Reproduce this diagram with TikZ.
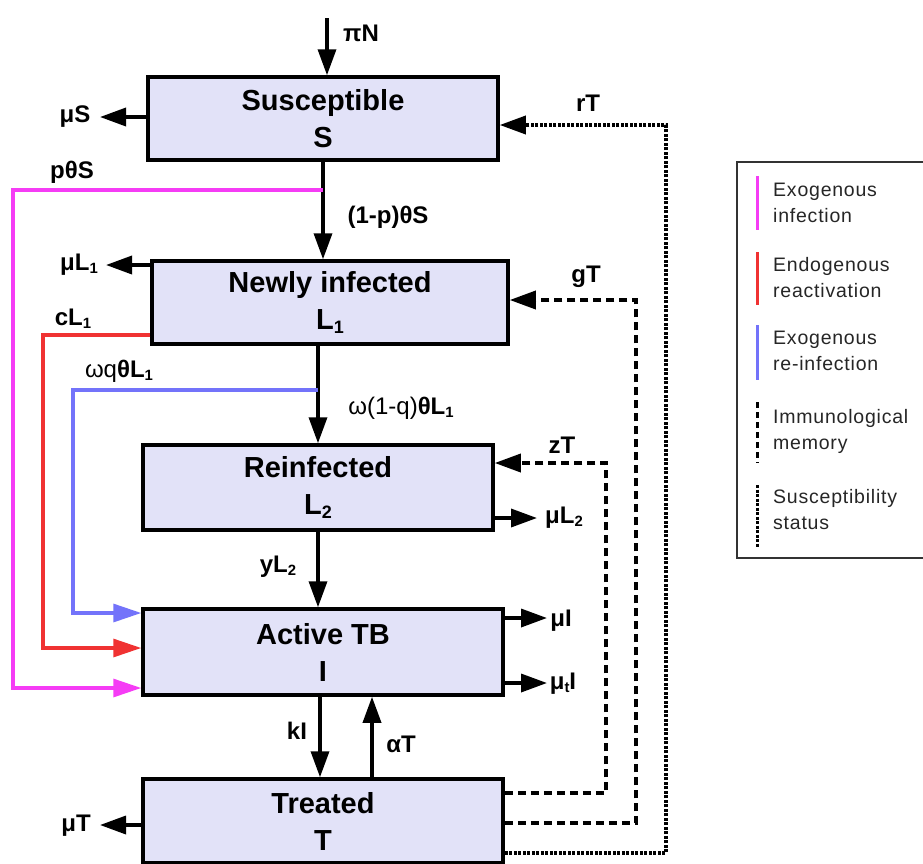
\documentclass[tikz,border=0pt]{standalone}
\usepackage{fontspec}
\setmainfont{Liberation Sans}
\newfontfamily\legfont[LetterSpace=4]{Liberation Sans}
\usetikzlibrary{arrows.meta}
\definecolor{boxfill}{RGB}{226,226,248}
\definecolor{cmag}{RGB}{245,60,245}
\definecolor{cred}{RGB}{240,50,50}
\definecolor{cblue}{RGB}{115,115,250}
\newcommand\sbs[1]{\raisebox{-0.12em}{\scalebox{0.62}{#1}}}
\newcommand\rgl[1]{{\mdseries #1}}
\begin{document}
\begin{tikzpicture}[x=1pt,y=-1pt,
  compbox/.style={draw, line width=3.5pt, fill=boxfill, inner sep=0pt, align=center,
    font=\fontsize{29}{37}\selectfont\bfseries},
  tip/.style={-{Triangle[length=26pt,width=18pt]}},
  arr/.style={line width=3.5pt, tip},
  lab/.style={font=\fontsize{24}{28}\selectfont\bfseries, inner sep=0pt},
  magln/.style={draw=cmag, line width=3.2pt, line join=miter, -{Triangle[length=28pt,width=18pt]}, cmag},
  redln/.style={draw=cred, line width=3.2pt, line join=miter, -{Triangle[length=28pt,width=18pt]}, cred},
  blueln/.style={draw=cblue, line width=3.2pt, line join=miter, -{Triangle[length=28pt,width=18pt]}, cblue},
  imm/.style={line width=3.5pt, dash pattern=on 8pt off 5pt, line join=miter, tip},
  sus/.style={line width=3.5pt, dash pattern=on 3pt off 1.5pt, line join=miter, tip},
  legtxt/.style={font=\fontsize{19.5}{26}\selectfont\legfont, align=left, inner sep=0pt, anchor=west, text=black!85}
]
\useasboundingbox (0,0) rectangle (923,863);
\clip (0,0) rectangle (923,863);
\fill[white] (0,0) rectangle (923,863);

% compartments
\node[compbox, minimum width=350pt, minimum height=83pt] (S) at (323,118.5) {Susceptible\\S};
\node[compbox, minimum width=356pt, minimum height=83pt] (L1) at (330,302.5) {Newly infected\\L\sbs{1}};
\node[compbox, minimum width=350pt, minimum height=85pt] (L2) at (318,487.5) {Reinfected\\L\sbs{2}};
\node[compbox, minimum width=360pt, minimum height=86pt] (I) at (323,652) {Active TB\\I};
\node[compbox, minimum width=360pt, minimum height=84pt] (T) at (323,821) {Treated\\T};

% inflow
\coordinate (pin) at (327,18);
\draw[arr] (pin) -- (pin |- S.north);
\node[lab] (lpiN) at (361,33) {πN};

% deaths
\coordinate (muS) at (100,117);
\draw[arr] (muS -| S.west) -- (muS);
\node[lab] (lmuS) at (75,117) {μS};
\coordinate (muL1) at (106,265);
\draw[arr] (muL1 -| L1.west) -- (muL1);
\node[lab] (lmuL1) at (79,265) {μL\sbs{1}};
\coordinate (muL2) at (537,518);
\draw[arr] (muL2 -| L2.east) -- (muL2);
\node[lab] (lmuL2) at (564,518) {μL\sbs{2}};
\coordinate (muI) at (547,618);
\draw[arr] (muI -| I.east) -- (muI);
\node[lab] (lmuI) at (561,621) {μI};
\coordinate (mutI) at (547,683);
\draw[arr] (mutI -| I.east) -- (mutI);
\node[lab] (lmutI) at (563,684) {μ\sbs{t}I};
\coordinate (muT) at (100,825);
\draw[arr] (muT -| T.west) -- (muT);
\node[lab] (lmuT) at (76,826) {μT};

% main flow
\draw[arr] (S.south) -- (S.south |- L1.north);
\node[lab] (l1p) at (388,217) {(1-p)θS};
\draw[arr] (L2.north |- L1.south) -- (L2.north);
\node[lab] (lw1q) at (401,408) {\rgl{ω(1-q)}θL\sbs{1}};
\draw[arr] (L2.south) -- (L2.south |- I.north);
\node[lab] (lyL2) at (278,567) {yL\sbs{2}};
\coordinate (kx) at (320,0);
\draw[arr] (kx |- I.south) -- (kx |- T.north);
\node[lab] (lkI) at (297,731) {kI};
\coordinate (ax) at (372,0);
\draw[arr] (ax |- T.north) -- (ax |- I.south);
\node[lab] (laT) at (401,744) {αT};

% coloured side routes
\coordinate (pj) at (323,190);
\coordinate (m1) at (13,190);
\coordinate (m2) at (13,688);
\draw[magln] (pj) -- (m1) -- (m2) -- (m2 -| I.west);
\node[lab] (lpS) at (72,172) {pθS};
\coordinate (r1) at (43,335);
\coordinate (r2) at (43,648);
\draw[redln] (r1 -| L1.west) -- (r1) -- (r2) -- (r2 -| I.west);
\node[lab] (lcL1) at (73,319) {cL\sbs{1}};
\coordinate (bj) at (318,390);
\coordinate (b1) at (73,390);
\coordinate (b2) at (73,613);
\draw[blueln] (bj) -- (b1) -- (b2) -- (b2 -| I.west);
\node[lab] (lwq) at (119,371) {\rgl{ωq}θL\sbs{1}};

% return flows from T
\coordinate (z1) at (606,793);
\coordinate (z2) at (606,463);
\draw[imm] (z1 -| T.east) -- (z1) -- (z2) -- (z2 -| L2.east);
\node[lab] (lzT) at (562,445) {zT};
\coordinate (g1) at (636,823);
\coordinate (g2) at (636,300);
\draw[imm] (g1 -| T.east) -- (g1) -- (g2) -- (g2 -| L1.east);
\node[lab] (lgT) at (586,277) {gT};
\coordinate (s1) at (666,853);
\coordinate (s2) at (666,125);
\draw[sus] (s1 -| T.east) -- (s1) -- (s2) -- (s2 -| S.east);
\node[lab] (lrT) at (588,103) {rT};

% legend
\draw[line width=1.5pt, draw=black!80] (737,162) rectangle (945,558);
\draw[cmag, line width=3pt] (757,176) -- (757,230);
\node[legtxt] (lg1) at (773,203) {Exogenous\\infection};
\draw[cred, line width=3pt] (757,252) -- (757,305);
\node[legtxt] (lg2) at (773,278) {Endogenous\\reactivation};
\draw[cblue, line width=3pt] (757,325) -- (757,380);
\node[legtxt] (lg3) at (773,351) {Exogenous\\re-infection};
\draw[line width=3pt, dash pattern=on 6pt off 4pt] (757,402) -- (757,463);
\node[legtxt] (lg4) at (773,431) {Immunological\\memory};
\draw[line width=3pt, dash pattern=on 3pt off 1.5pt] (757,485) -- (757,547);
\node[legtxt] (lg5) at (773,510) {Susceptibility\\status};
\end{tikzpicture}
\end{document}
